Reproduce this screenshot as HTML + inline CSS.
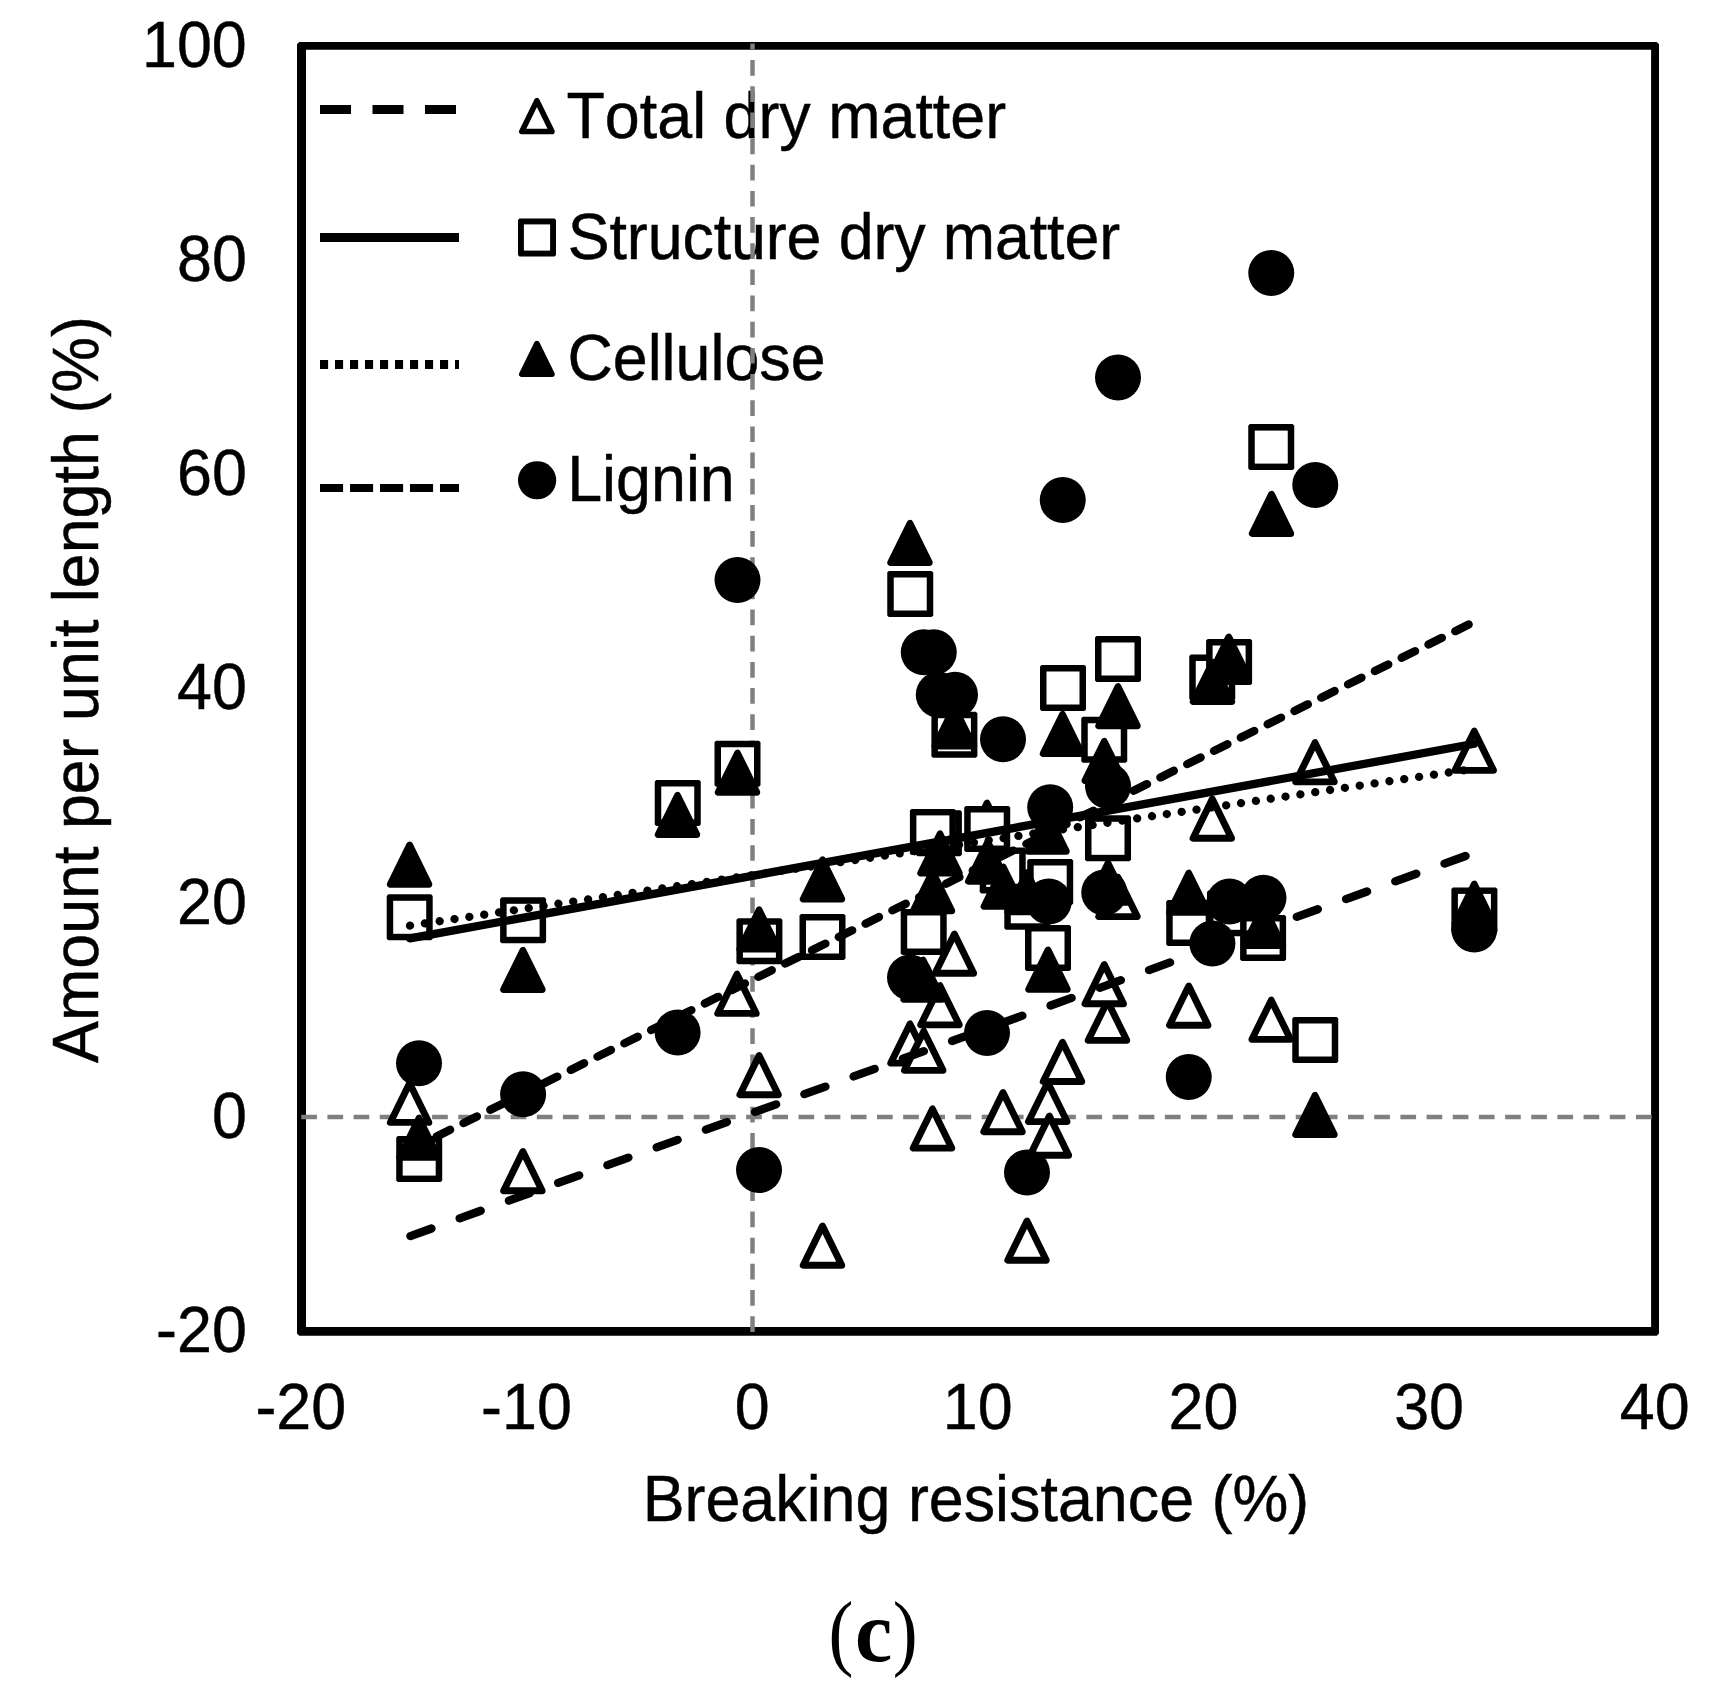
<!DOCTYPE html>
<html lang="en"><head><meta charset="utf-8"><title>Amount per unit length vs breaking resistance (c)</title>
<style>html,body{margin:0;padding:0;background:#fff}body{width:1713px;height:1697px;overflow:hidden}svg{display:block}text{font-family:"Liberation Sans",Arial,sans-serif;fill:#000;stroke:#000;stroke-width:.45px;font-kerning:none;font-variant-ligatures:none}.cap{font-family:"Liberation Serif","Times New Roman",serif;stroke:none}</style></head><body>
<svg width="1713" height="1697" viewBox="0 0 1713 1697">
<rect width="1713" height="1697" fill="#fff"/>
<path fill="#000" fill-rule="evenodd" d="M299.2 42.0H1656.8L1659.0 44.2V1333.55L1656.8 1335.75H299.2L297.0 1333.55V44.2ZM306.0 49.85V1326.9H1651.1V49.85Z"/>
<g font-size="62.8" text-anchor="end">
<text transform="translate(246.80 66.60) scale(1 1.04)" font-size="62.8" text-anchor="end">100</text>
<text transform="translate(246.80 280.85) scale(1 1.04)" font-size="62.8" text-anchor="end">80</text>
<text transform="translate(246.80 495.10) scale(1 1.04)" font-size="62.8" text-anchor="end">60</text>
<text transform="translate(246.80 709.35) scale(1 1.04)" font-size="62.8" text-anchor="end">40</text>
<text transform="translate(246.80 923.60) scale(1 1.04)" font-size="62.8" text-anchor="end">20</text>
<text transform="translate(246.80 1137.85) scale(1 1.04)" font-size="62.8" text-anchor="end">0</text>
<text transform="translate(246.80 1352.10) scale(1 1.04)" font-size="62.8" text-anchor="end">-20</text>
</g>
<g font-size="62.8" text-anchor="middle">
<text transform="translate(300.80 1429.00) scale(1 1.04)" font-size="62.8" text-anchor="middle">-20</text>
<text transform="translate(526.45 1429.00) scale(1 1.04)" font-size="62.8" text-anchor="middle">-10</text>
<text transform="translate(752.10 1429.00) scale(1 1.04)" font-size="62.8" text-anchor="middle">0</text>
<text transform="translate(977.75 1429.00) scale(1 1.04)" font-size="62.8" text-anchor="middle">10</text>
<text transform="translate(1203.40 1429.00) scale(1 1.04)" font-size="62.8" text-anchor="middle">20</text>
<text transform="translate(1429.05 1429.00) scale(1 1.04)" font-size="62.8" text-anchor="middle">30</text>
<text transform="translate(1654.70 1429.00) scale(1 1.04)" font-size="62.8" text-anchor="middle">40</text>
</g>
<text transform="translate(975.90 1521.20) scale(1 1.025)" font-size="62.8" text-anchor="middle">Breaking resistance (%)</text>
<text transform="translate(98.10 689.50) rotate(-90) scale(1 1.025)" font-size="62.8" text-anchor="middle">Amount per unit length (%)</text>
<g class="cap" text-anchor="middle">
<text class="cap" transform="translate(840.98 1660.2) scale(0.89 1)" font-size="84">(</text>
<text class="cap" transform="translate(873.60 1661.4) scale(0.97 1)" font-size="86.5" font-weight="bold">c</text>
<text class="cap" transform="translate(905.10 1660.2) scale(0.89 1)" font-size="84">)</text>
</g>
<g stroke="#000" stroke-width="9" fill="none">
<path d="M320 109.5H456" stroke-dasharray="31 21.5"/>
<path d="M320 237.6H459"/>
<path d="M320 364.5H459" stroke-dasharray="8.1 6.9"/>
<path d="M320 488.05H459" stroke-dasharray="23.1 6.9" stroke-width="8.1"/>
</g>
<path d="M536.90 100.75L521.82 131.45H551.98Z" fill="#fff" stroke="#000" stroke-width="5.6" stroke-linejoin="round"/>
<path d="M519.40 218.50H554.60L556.00 219.90V255.10L554.60 256.50H519.40L518.00 255.10V219.90Z" fill="#000"/><rect x="523.90" y="224.40" width="26.20" height="26.20" fill="#fff"/>
<path d="M536.90 343.55L521.82 374.25H551.98Z" fill="#000" stroke="#000" stroke-width="5.6" stroke-linejoin="round"/>
<circle cx="537.10" cy="480.25" r="19.1" fill="#000"/>
<g font-size="62.8">
<text transform="translate(566.50 137.50) scale(1 1.025)" font-size="62.8" text-anchor="start">Total dry matter</text>
<text transform="translate(567.80 258.75) scale(1 1.025)" font-size="62.8" text-anchor="start" letter-spacing="-0.13">Structure dry matter</text>
<text transform="translate(567.40 380.00) scale(1 1.025)" font-size="62.8" text-anchor="start">Cellulose</text>
<text transform="translate(567.20 500.75) scale(1 1.025)" font-size="62.8" text-anchor="start">Lignin</text>
</g>
<defs><clipPath id="cp"><rect x="700" y="43.6" width="100" height="1300"/></clipPath></defs>
<g stroke="#808080" stroke-width="4.5" fill="none" stroke-dasharray="15.7 10.47">
<path d="M301.25 1116.9H1652"/>
<path d="M752.5 1331.9V20" clip-path="url(#cp)"/>
</g>
<g>
<path d="M409.60 1083.20L390.35 1122.40H428.85Z" fill="#fff" stroke="#000" stroke-width="6.9" stroke-linejoin="round"/>
<path d="M522.90 1151.60L503.65 1190.80H542.15Z" fill="#fff" stroke="#000" stroke-width="6.9" stroke-linejoin="round"/>
<path d="M737.00 974.20L717.75 1013.40H756.25Z" fill="#fff" stroke="#000" stroke-width="6.9" stroke-linejoin="round"/>
<path d="M759.10 1055.50L739.85 1094.70H778.35Z" fill="#fff" stroke="#000" stroke-width="6.9" stroke-linejoin="round"/>
<path d="M822.50 1226.00L803.25 1265.20H841.75Z" fill="#fff" stroke="#000" stroke-width="6.9" stroke-linejoin="round"/>
<path d="M1027.00 1221.00L1007.75 1260.20H1046.25Z" fill="#fff" stroke="#000" stroke-width="6.9" stroke-linejoin="round"/>
<path d="M932.50 1108.90L913.25 1148.10H951.75Z" fill="#fff" stroke="#000" stroke-width="6.9" stroke-linejoin="round"/>
<path d="M1003.00 1092.50L983.75 1131.70H1022.25Z" fill="#fff" stroke="#000" stroke-width="6.9" stroke-linejoin="round"/>
<path d="M1047.75 1082.40L1028.50 1121.60H1067.00Z" fill="#fff" stroke="#000" stroke-width="6.9" stroke-linejoin="round"/>
<path d="M1049.40 1116.00L1030.15 1155.20H1068.65Z" fill="#fff" stroke="#000" stroke-width="6.9" stroke-linejoin="round"/>
<path d="M1062.50 1042.30L1043.25 1081.50H1081.75Z" fill="#fff" stroke="#000" stroke-width="6.9" stroke-linejoin="round"/>
<path d="M1107.50 1001.15L1088.25 1040.35H1126.75Z" fill="#fff" stroke="#000" stroke-width="6.9" stroke-linejoin="round"/>
<path d="M1104.25 964.50L1085.00 1003.70H1123.50Z" fill="#fff" stroke="#000" stroke-width="6.9" stroke-linejoin="round"/>
<path d="M1188.75 986.00L1169.50 1025.20H1208.00Z" fill="#fff" stroke="#000" stroke-width="6.9" stroke-linejoin="round"/>
<path d="M954.40 934.00L935.15 973.20H973.65Z" fill="#fff" stroke="#000" stroke-width="6.9" stroke-linejoin="round"/>
<path d="M940.00 985.65L920.75 1024.85H959.25Z" fill="#fff" stroke="#000" stroke-width="6.9" stroke-linejoin="round"/>
<path d="M910.00 1023.90L890.75 1063.10H929.25Z" fill="#fff" stroke="#000" stroke-width="6.9" stroke-linejoin="round"/>
<path d="M923.75 1031.15L904.50 1070.35H943.00Z" fill="#fff" stroke="#000" stroke-width="6.9" stroke-linejoin="round"/>
<path d="M1118.00 877.40L1098.75 916.60H1137.25Z" fill="#fff" stroke="#000" stroke-width="6.9" stroke-linejoin="round"/>
<path d="M1271.25 1000.15L1252.00 1039.35H1290.50Z" fill="#fff" stroke="#000" stroke-width="6.9" stroke-linejoin="round"/>
<path d="M1315.00 742.65L1295.75 781.85H1334.25Z" fill="#fff" stroke="#000" stroke-width="6.9" stroke-linejoin="round"/>
<path d="M1474.25 731.15L1455.00 770.35H1493.50Z" fill="#fff" stroke="#000" stroke-width="6.9" stroke-linejoin="round"/>
<path d="M1212.30 799.00L1193.05 838.20H1231.55Z" fill="#fff" stroke="#000" stroke-width="6.9" stroke-linejoin="round"/>
<path d="M987.00 803.15L967.75 842.35H1006.25Z" fill="#fff" stroke="#000" stroke-width="6.9" stroke-linejoin="round"/>
</g>
<g>
<path d="M388.30 894.30H431.10L432.70 895.90V938.70L431.10 940.30H388.30L386.70 938.70V895.90Z" fill="#000"/><rect x="393.20" y="900.80" width="33.00" height="33.00" fill="#fff"/>
<path d="M501.70 897.30H544.50L546.10 898.90V941.70L544.50 943.30H501.70L500.10 941.70V898.90Z" fill="#000"/><rect x="506.60" y="903.80" width="33.00" height="33.00" fill="#fff"/>
<path d="M397.80 1136.10H440.60L442.20 1137.70V1180.50L440.60 1182.10H397.80L396.20 1180.50V1137.70Z" fill="#000"/><rect x="402.70" y="1142.60" width="33.00" height="33.00" fill="#fff"/>
<path d="M656.35 780.00H699.15L700.75 781.60V824.40L699.15 826.00H656.35L654.75 824.40V781.60Z" fill="#000"/><rect x="661.25" y="786.50" width="33.00" height="33.00" fill="#fff"/>
<path d="M716.10 740.75H758.90L760.50 742.35V785.15L758.90 786.75H716.10L714.50 785.15V742.35Z" fill="#000"/><rect x="721.00" y="747.25" width="33.00" height="33.00" fill="#fff"/>
<path d="M738.00 918.20H780.80L782.40 919.80V962.60L780.80 964.20H738.00L736.40 962.60V919.80Z" fill="#000"/><rect x="742.90" y="924.70" width="33.00" height="33.00" fill="#fff"/>
<path d="M801.10 914.00H843.90L845.50 915.60V958.40L843.90 960.00H801.10L799.50 958.40V915.60Z" fill="#000"/><rect x="806.00" y="920.50" width="33.00" height="33.00" fill="#fff"/>
<path d="M888.85 571.00H931.65L933.25 572.60V615.40L931.65 617.00H888.85L887.25 615.40V572.60Z" fill="#000"/><rect x="893.75" y="577.50" width="33.00" height="33.00" fill="#fff"/>
<path d="M902.30 909.00H945.10L946.70 910.60V953.40L945.10 955.00H902.30L900.70 953.40V910.60Z" fill="#000"/><rect x="907.20" y="915.50" width="33.00" height="33.00" fill="#fff"/>
<path d="M917.50 810.20H960.30L961.90 811.80V854.60L960.30 856.20H917.50L915.90 854.60V811.80Z" fill="#000"/><rect x="922.40" y="816.70" width="33.00" height="33.00" fill="#fff"/>
<path d="M911.50 808.90H954.30L955.90 810.50V853.30L954.30 854.90H911.50L909.90 853.30V810.50Z" fill="#000"/><rect x="916.40" y="815.40" width="33.00" height="33.00" fill="#fff"/>
<path d="M933.00 711.75H975.80L977.40 713.35V756.15L975.80 757.75H933.00L931.40 756.15V713.35Z" fill="#000"/><rect x="937.90" y="718.25" width="33.00" height="33.00" fill="#fff"/>
<path d="M965.80 806.00H1008.60L1010.20 807.60V850.40L1008.60 852.00H965.80L964.20 850.40V807.60Z" fill="#000"/><rect x="970.70" y="812.50" width="33.00" height="33.00" fill="#fff"/>
<path d="M981.30 847.40H1024.10L1025.70 849.00V891.80L1024.10 893.40H981.30L979.70 891.80V849.00Z" fill="#000"/><rect x="986.20" y="853.90" width="33.00" height="33.00" fill="#fff"/>
<path d="M1005.90 883.80H1048.70L1050.30 885.40V928.20L1048.70 929.80H1005.90L1004.30 928.20V885.40Z" fill="#000"/><rect x="1010.80" y="890.30" width="33.00" height="33.00" fill="#fff"/>
<path d="M1026.60 925.00H1069.40L1071.00 926.60V969.40L1069.40 971.00H1026.60L1025.00 969.40V926.60Z" fill="#000"/><rect x="1031.50" y="931.50" width="33.00" height="33.00" fill="#fff"/>
<path d="M1028.80 859.00H1071.60L1073.20 860.60V903.40L1071.60 905.00H1028.80L1027.20 903.40V860.60Z" fill="#000"/><rect x="1033.70" y="865.50" width="33.00" height="33.00" fill="#fff"/>
<path d="M1041.60 665.00H1084.40L1086.00 666.60V709.40L1084.40 711.00H1041.60L1040.00 709.40V666.60Z" fill="#000"/><rect x="1046.50" y="671.50" width="33.00" height="33.00" fill="#fff"/>
<path d="M1082.85 716.75H1125.65L1127.25 718.35V761.15L1125.65 762.75H1082.85L1081.25 761.15V718.35Z" fill="#000"/><rect x="1087.75" y="723.25" width="33.00" height="33.00" fill="#fff"/>
<path d="M1086.60 815.30H1129.40L1131.00 816.90V859.70L1129.40 861.30H1086.60L1085.00 859.70V816.90Z" fill="#000"/><rect x="1091.50" y="821.80" width="33.00" height="33.00" fill="#fff"/>
<path d="M1096.60 636.00H1139.40L1141.00 637.60V680.40L1139.40 682.00H1096.60L1095.00 680.40V637.60Z" fill="#000"/><rect x="1101.50" y="642.50" width="33.00" height="33.00" fill="#fff"/>
<path d="M1167.80 900.00H1210.60L1212.20 901.60V944.40L1210.60 946.00H1167.80L1166.20 944.40V901.60Z" fill="#000"/><rect x="1172.70" y="906.50" width="33.00" height="33.00" fill="#fff"/>
<path d="M1190.85 654.50H1233.65L1235.25 656.10V698.90L1233.65 700.50H1190.85L1189.25 698.90V656.10Z" fill="#000"/><rect x="1195.75" y="661.00" width="33.00" height="33.00" fill="#fff"/>
<path d="M1207.70 639.00H1250.50L1252.10 640.60V683.40L1250.50 685.00H1207.70L1206.10 683.40V640.60Z" fill="#000"/><rect x="1212.60" y="645.50" width="33.00" height="33.00" fill="#fff"/>
<path d="M1208.60 890.30H1251.40L1253.00 891.90V934.70L1251.40 936.30H1208.60L1207.00 934.70V891.90Z" fill="#000"/><rect x="1213.50" y="896.80" width="33.00" height="33.00" fill="#fff"/>
<path d="M1241.70 915.00H1284.50L1286.10 916.60V959.40L1284.50 961.00H1241.70L1240.10 959.40V916.60Z" fill="#000"/><rect x="1246.60" y="921.50" width="33.00" height="33.00" fill="#fff"/>
<path d="M1249.85 424.10H1292.65L1294.25 425.70V468.50L1292.65 470.10H1249.85L1248.25 468.50V425.70Z" fill="#000"/><rect x="1254.75" y="430.60" width="33.00" height="33.00" fill="#fff"/>
<path d="M1293.85 1017.00H1336.65L1338.25 1018.60V1061.40L1336.65 1063.00H1293.85L1292.25 1061.40V1018.60Z" fill="#000"/><rect x="1298.75" y="1023.50" width="33.00" height="33.00" fill="#fff"/>
<path d="M1453.00 887.40H1495.80L1497.40 889.00V931.80L1495.80 933.40H1453.00L1451.40 931.80V889.00Z" fill="#000"/><rect x="1457.90" y="893.90" width="33.00" height="33.00" fill="#fff"/>
</g>
<g>
<path d="M409.60 845.10L390.35 884.30H428.85Z" fill="#000" stroke="#000" stroke-width="6.9" stroke-linejoin="round"/>
<path d="M522.90 950.40L503.65 989.60H542.15Z" fill="#000" stroke="#000" stroke-width="6.9" stroke-linejoin="round"/>
<path d="M419.00 1118.15L399.75 1157.35H438.25Z" fill="#000" stroke="#000" stroke-width="6.9" stroke-linejoin="round"/>
<path d="M677.50 795.40L658.25 834.60H696.75Z" fill="#000" stroke="#000" stroke-width="6.9" stroke-linejoin="round"/>
<path d="M737.50 753.15L718.25 792.35H756.75Z" fill="#000" stroke="#000" stroke-width="6.9" stroke-linejoin="round"/>
<path d="M759.10 909.90L739.85 949.10H778.35Z" fill="#000" stroke="#000" stroke-width="6.9" stroke-linejoin="round"/>
<path d="M822.50 859.90L803.25 899.10H841.75Z" fill="#000" stroke="#000" stroke-width="6.9" stroke-linejoin="round"/>
<path d="M910.00 523.40L890.75 562.60H929.25Z" fill="#000" stroke="#000" stroke-width="6.9" stroke-linejoin="round"/>
<path d="M932.50 871.65L913.25 910.85H951.75Z" fill="#000" stroke="#000" stroke-width="6.9" stroke-linejoin="round"/>
<path d="M940.00 833.90L920.75 873.10H959.25Z" fill="#000" stroke="#000" stroke-width="6.9" stroke-linejoin="round"/>
<path d="M954.25 706.90L935.00 746.10H973.50Z" fill="#000" stroke="#000" stroke-width="6.9" stroke-linejoin="round"/>
<path d="M987.75 842.00L968.50 881.20H1007.00Z" fill="#000" stroke="#000" stroke-width="6.9" stroke-linejoin="round"/>
<path d="M1003.30 867.20L984.05 906.40H1022.55Z" fill="#000" stroke="#000" stroke-width="6.9" stroke-linejoin="round"/>
<path d="M1048.00 950.10L1028.75 989.30H1067.25Z" fill="#000" stroke="#000" stroke-width="6.9" stroke-linejoin="round"/>
<path d="M1047.00 812.00L1027.75 851.20H1066.25Z" fill="#000" stroke="#000" stroke-width="6.9" stroke-linejoin="round"/>
<path d="M1062.50 714.40L1043.25 753.60H1081.75Z" fill="#000" stroke="#000" stroke-width="6.9" stroke-linejoin="round"/>
<path d="M1104.25 741.40L1085.00 780.60H1123.50Z" fill="#000" stroke="#000" stroke-width="6.9" stroke-linejoin="round"/>
<path d="M1108.00 863.15L1088.75 902.35H1127.25Z" fill="#000" stroke="#000" stroke-width="6.9" stroke-linejoin="round"/>
<path d="M1118.00 686.65L1098.75 725.85H1137.25Z" fill="#000" stroke="#000" stroke-width="6.9" stroke-linejoin="round"/>
<path d="M1188.75 873.15L1169.50 912.35H1208.00Z" fill="#000" stroke="#000" stroke-width="6.9" stroke-linejoin="round"/>
<path d="M1212.50 662.40L1193.25 701.60H1231.75Z" fill="#000" stroke="#000" stroke-width="6.9" stroke-linejoin="round"/>
<path d="M1228.75 637.00L1209.50 676.20H1248.00Z" fill="#000" stroke="#000" stroke-width="6.9" stroke-linejoin="round"/>
<path d="M1263.50 906.40L1244.25 945.60H1282.75Z" fill="#000" stroke="#000" stroke-width="6.9" stroke-linejoin="round"/>
<path d="M1271.50 494.30L1252.25 533.50H1290.75Z" fill="#000" stroke="#000" stroke-width="6.9" stroke-linejoin="round"/>
<path d="M1315.00 1095.40L1295.75 1134.60H1334.25Z" fill="#000" stroke="#000" stroke-width="6.9" stroke-linejoin="round"/>
<path d="M1474.25 884.15L1455.00 923.35H1493.50Z" fill="#000" stroke="#000" stroke-width="6.9" stroke-linejoin="round"/>
<path d="M923.10 960.15L903.85 999.35H942.35Z" fill="#000" stroke="#000" stroke-width="6.9" stroke-linejoin="round"/>
<path d="M1027.00 872.70L1007.75 911.90H1046.25Z" fill="#000" stroke="#000" stroke-width="6.9" stroke-linejoin="round"/>
</g>
<g>
<circle cx="419.00" cy="1063.30" r="23.0" fill="#000"/>
<circle cx="523.10" cy="1094.20" r="23.0" fill="#000"/>
<circle cx="677.60" cy="1032.50" r="23.0" fill="#000"/>
<circle cx="759.00" cy="1170.00" r="23.0" fill="#000"/>
<circle cx="737.50" cy="580.00" r="23.0" fill="#000"/>
<circle cx="923.75" cy="652.25" r="23.0" fill="#000"/>
<circle cx="933.75" cy="652.25" r="23.0" fill="#000"/>
<circle cx="938.75" cy="694.75" r="23.0" fill="#000"/>
<circle cx="955.00" cy="694.75" r="23.0" fill="#000"/>
<circle cx="1003.00" cy="739.25" r="23.0" fill="#000"/>
<circle cx="910.00" cy="977.50" r="23.0" fill="#000"/>
<circle cx="987.00" cy="1033.00" r="23.0" fill="#000"/>
<circle cx="1027.00" cy="1172.50" r="23.0" fill="#000"/>
<circle cx="1048.75" cy="901.40" r="23.0" fill="#000"/>
<circle cx="1050.20" cy="807.25" r="23.0" fill="#000"/>
<circle cx="1062.75" cy="500.10" r="23.0" fill="#000"/>
<circle cx="1104.25" cy="892.50" r="23.0" fill="#000"/>
<circle cx="1108.00" cy="786.10" r="23.0" fill="#000"/>
<circle cx="1118.00" cy="377.50" r="23.0" fill="#000"/>
<circle cx="1188.75" cy="1077.00" r="23.0" fill="#000"/>
<circle cx="1212.40" cy="943.40" r="23.0" fill="#000"/>
<circle cx="1229.50" cy="901.60" r="23.0" fill="#000"/>
<circle cx="1263.50" cy="897.80" r="23.0" fill="#000"/>
<circle cx="1271.25" cy="273.00" r="23.0" fill="#000"/>
<circle cx="1315.25" cy="484.90" r="23.0" fill="#000"/>
<circle cx="1474.25" cy="929.50" r="23.0" fill="#000"/>
</g>
<g stroke="#000" stroke-width="8.3" fill="none" stroke-linecap="round">
<path d="M410.4 1236.1L1474.4 852.85" stroke-dasharray="22.4 29.94"/>
<path d="M410 938.4L1474.4 743.75"/>
<path d="M410 925.6L1474.4 768.7" stroke-dasharray="0.01 14.99"/>
<path d="M419 1145.2L1474.4 621.7" stroke-dasharray="15 14.92" stroke-dashoffset="10.16"/>
</g>
</svg></body></html>
